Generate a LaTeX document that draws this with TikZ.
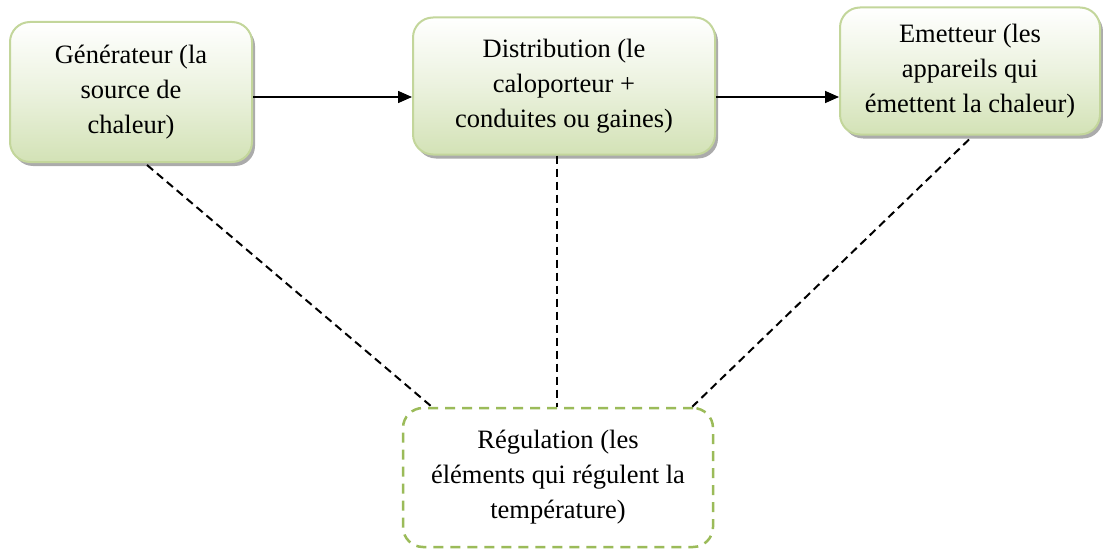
\documentclass[tikz,border=0pt]{standalone}
\usepackage{fontspec}
\setmainfont{Liberation Serif}
\usetikzlibrary{calc,arrows.meta,shadows}
\definecolor{boxedge}{HTML}{C3D69B}
\definecolor{boxfill}{HTML}{D3E2B6}
\definecolor{regedge}{HTML}{9BBB59}
\tikzset{
  stage/.style={draw=boxedge, line width=2pt, rounded corners=20pt,
    top color=white, bottom color=boxfill, middle color=boxfill!45,
    drop shadow={shadow xshift=3pt, shadow yshift=-4pt, fill=black!55, opacity=0.6},
    align=center, inner sep=0pt, font=\fontsize{26.5}{35}\selectfont},
  ctrl/.style={draw=regedge, line width=2.5pt, dash pattern=on 10pt off 7pt,
    rounded corners=20pt, fill=white, align=center, inner sep=0pt,
    font=\fontsize{26.5}{35}\selectfont},
  flow/.style={line width=1.6pt, -{Triangle[length=14pt,width=12pt]}},
  link/.style={line width=2pt, dash pattern=on 8pt off 5pt}
}
\begin{document}
\begin{tikzpicture}[x=1pt,y=1pt]
  \useasboundingbox (0,0) rectangle (1103,-551);
  % heating chain
  \node[stage, minimum width=242pt, minimum height=140pt] (gen) at (131,-92)
    {Générateur (la\\source de\\chaleur)};
  \node[stage, minimum width=302pt, minimum height=137pt] (dist) at (564,-86)
    {Distribution (le\\caloporteur +\\conduites ou gaines)};
  \node[stage, minimum width=260pt, minimum height=127pt] (emit) at (970,-71)
    {Emetteur (les\\appareils qui\\émettent la chaleur)};
  % control
  \node[ctrl, minimum width=310pt, minimum height=139pt] (reg) at (558,-477.5)
    {Régulation (les\\éléments qui régulent la\\température)};
  % forward flow
  \draw[flow] (gen.east |- 0,-97) -- (dist.west |- 0,-97);
  \draw[flow] (dist.east |- 0,-97) -- (emit.west |- 0,-97);
  % links to control
  \draw[link] ($(gen.south west)+(138,-2)$) -- ($(reg.north west)+(30,0)$);
  \draw[link] (dist.south -| 557,0) -- (reg.north -| 557,0);
  \draw[link] ($(emit.south west)+(130,-4)$) -- ($(reg.north east)+(-22,0)$);
\end{tikzpicture}
\end{document}
